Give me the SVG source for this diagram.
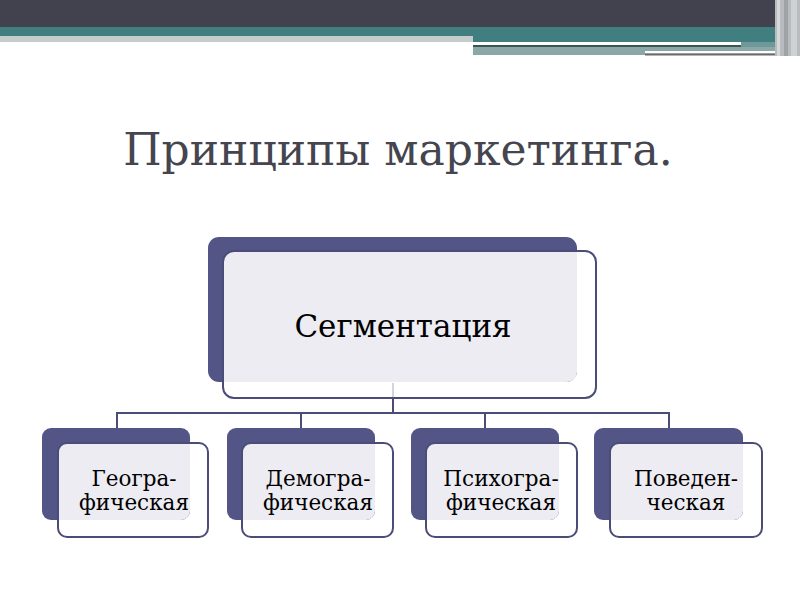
<svg xmlns="http://www.w3.org/2000/svg" width="800" height="600" viewBox="0 0 800 600">
<defs>
<style>
.back{fill:#535587;}
.light{fill:#ececf2;}
.front{fill:none;stroke:#4b4d78;stroke-width:2;}
.conn{fill:none;stroke:#4b4d78;stroke-width:2;}
.t{font-family:"DejaVu Serif",serif;fill:#000;text-anchor:middle;}
</style>
</defs>
<rect width="800" height="600" fill="#ffffff"/>
<g id="header">
<rect x="0" y="0" width="800" height="27" fill="#42424f"/>
<rect x="0" y="27" width="473" height="9" fill="#417e80"/>
<rect x="0" y="36" width="473" height="6" fill="#c6cbcb"/>
<rect x="473" y="27" width="327" height="15" fill="#417e80"/>
<rect x="473" y="42" width="268" height="3" fill="#ffffff"/>
<rect x="473" y="45" width="268" height="2" fill="#3d5456"/>
<rect x="741" y="42" width="59" height="5" fill="#6f9899"/>
<rect x="473" y="47" width="312" height="8" fill="#8ba7a8"/>
<rect x="645" y="51" width="140" height="2.5" fill="#ffffff"/>
<rect x="645" y="53.5" width="140" height="2" fill="#6a6a6a"/>
<rect x="775" y="0" width="25" height="56" fill="#b8bcbf"/>
<rect x="777" y="0" width="3" height="56" fill="#d6d8da"/>
<rect x="784" y="0" width="4" height="56" fill="#9ea3a6"/>
<rect x="791" y="0" width="6" height="56" fill="#cfd2d4"/>
</g>
<text id="title" x="398" y="165" font-family="DejaVu Serif, serif" font-size="44" fill="#45454f" text-anchor="middle">Принципы маркетинга.</text>
<g id="connectors">
<path d="M393 383 V398" fill="none" stroke="#d4d4dc" stroke-width="2"/>
<path class="conn" d="M393 398 V413 M117 413 H669 M117 412 V428 M301 412 V428 M485 412 V428 M669 412 V428"/>
</g>
<g id="segmentation">
<rect class="back" x="208" y="237" width="369" height="145" rx="11"/>
<path class="light" d="M223 262 a11 11 0 0 1 11 -11 H577 V372 a10 10 0 0 1 -10 10 H223 Z"/>
<rect class="front" x="223" y="251" width="373" height="147" rx="11"/>
<text class="t" x="403" y="337" font-size="31">Сегментация</text>
</g>
<g id="geo">
<rect class="back" x="42" y="428" width="148" height="92" rx="9"/>
<path class="light" d="M58 452 a9 9 0 0 1 9 -9 H190 V511 a9 9 0 0 1 -9 9 H58 Z"/>
<rect class="front" x="58" y="443" width="150" height="94" rx="9"/>
<text class="t" x="134" y="486" font-size="21.5">Геогра-</text>
<text class="t" x="134" y="510" font-size="21.5">фическая</text>
</g>
<g id="demo">
<rect class="back" x="227" y="428" width="148" height="92" rx="9"/>
<path class="light" d="M242 452 a9 9 0 0 1 9 -9 H375 V511 a9 9 0 0 1 -9 9 H242 Z"/>
<rect class="front" x="242" y="443" width="151" height="94" rx="9"/>
<text class="t" x="318" y="486" font-size="21.5">Демогра-</text>
<text class="t" x="318" y="510" font-size="21.5">фическая</text>
</g>
<g id="psycho">
<rect class="back" x="411" y="428" width="148" height="92" rx="9"/>
<path class="light" d="M426 452 a9 9 0 0 1 9 -9 H559 V511 a9 9 0 0 1 -9 9 H426 Z"/>
<rect class="front" x="426" y="443" width="151" height="94" rx="9"/>
<text class="t" x="501" y="486" font-size="21.5">Психогра-</text>
<text class="t" x="501" y="510" font-size="21.5">фическая</text>
</g>
<g id="behav">
<rect class="back" x="594" y="428" width="149" height="92" rx="9"/>
<path class="light" d="M610 452 a9 9 0 0 1 9 -9 H743 V511 a9 9 0 0 1 -9 9 H610 Z"/>
<rect class="front" x="610" y="443" width="152" height="94" rx="9"/>
<text class="t" x="686" y="486" font-size="21.5">Поведен-</text>
<text class="t" x="686" y="510" font-size="21.5">ческая</text>
</g>
</svg>
